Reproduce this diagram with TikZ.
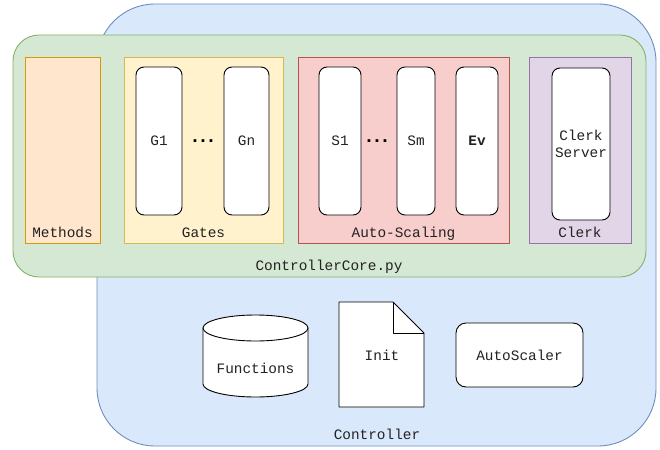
\documentclass[tikz,border=0pt]{standalone}
\usepackage{fontspec}
\setmainfont{Liberation Mono}
\definecolor{ctrlfill}{HTML}{DAE8FC}
\definecolor{ctrlline}{HTML}{6C8EBF}
\definecolor{corefill}{HTML}{D5E8D4}
\definecolor{coreline}{HTML}{82B366}
\definecolor{methfill}{HTML}{FFE6CC}
\definecolor{methline}{HTML}{D79B00}
\definecolor{gatefill}{HTML}{FFF2CC}
\definecolor{gateline}{HTML}{D6B656}
\definecolor{asfill}{HTML}{F8CECC}
\definecolor{asline}{HTML}{B85450}
\definecolor{clerkfill}{HTML}{E1D5E7}
\definecolor{clerkline}{HTML}{9673A6}
\definecolor{txt}{HTML}{222222}
\newcommand{\bigdots}{{\fontsize{19}{19}\selectfont\bfseries .\kern-3.4pt.\kern-3.4pt.}}
\begin{document}
\begin{tikzpicture}[x=1pt,y=-1pt,
  font=\fontsize{14.4}{17}\selectfont,
  lbl/.style={inner sep=0pt, text=txt, text height=8pt, text depth=0pt},
  cont/.style={line width=0.9pt, inner sep=0pt},
  item/.style={draw=black, fill=white, line width=0.9pt, rounded corners=8pt,
    inner sep=0pt, align=center, text=txt}]
\useasboundingbox (0,0) rectangle (660,449);
% Controller
\node[cont, draw=ctrlline, fill=ctrlfill, rounded corners=58pt,
  minimum width=559, minimum height=442] (controller) at (376.5,225) {};
\node[lbl] (controllerlbl) at (377,435) {Controller};
% ControllerCore.py
\node[cont, draw=coreline, fill=corefill, rounded corners=26pt,
  minimum width=633, minimum height=242] (core) at (329.5,156) {};
\node[lbl] (corelbl) at (329,266) {ControllerCore.py};
% Methods
\node[cont, draw=methline, fill=methfill, minimum width=75, minimum height=186] (methods) at (62.5,150) {};
\node[lbl] (methodslbl) at (62.5,233) {Methods};
% Gates
\node[cont, draw=gateline, fill=gatefill, minimum width=159, minimum height=186] (gates) at (203.5,150) {};
\node[lbl] (gateslbl) at (203.5,233) {Gates};
\node[item, minimum width=46, minimum height=148] (g1) at (159,141) {G1};
\node[item, minimum width=45, minimum height=148] (gn) at (246.5,141) {Gn};
\node[inner sep=0pt] (gdots) at (203,141) {\bigdots};
% Auto-Scaling
\node[cont, draw=asline, fill=asfill, minimum width=211, minimum height=186] (autoscaling) at (403.5,150) {};
\node[lbl] (aslbl) at (403.5,233) {Auto-Scaling};
\node[item, minimum width=42, minimum height=148] (s1) at (340,141) {S1};
\node[item, minimum width=38, minimum height=148] (sm) at (416,141) {Sm};
\node[item, minimum width=42, minimum height=148] (ev) at (477,141) {\textbf{Ev}};
\node[inner sep=0pt] (sdots) at (377,141) {\bigdots};
% Clerk
\node[cont, draw=clerkline, fill=clerkfill, minimum width=102, minimum height=186] (clerk) at (580,150) {};
\node[lbl] (clerklbl) at (580,233) {Clerk};
\node[item, minimum width=58, minimum height=152] (clerkserver) at (581,144) {Clerk\\[0pt]Server};
% Functions cylinder
\path[draw=black, fill=white, line width=0.9pt]
  (203,328) -- (203,384) arc[start angle=180, end angle=0, x radius=52.5, y radius=13]
  -- (308,328) -- cycle;
\draw[fill=white, line width=0.9pt] (255.5,328) ellipse[x radius=52.5, y radius=13];
\node[lbl] (functions) at (255.5,369) {Functions};
% Init document
\path[draw=black, fill=white, line width=0.9pt, line join=round]
  (339,302) -- (393,302) -- (424,333) -- (424,407) -- (339,407) -- cycle;
\draw[line width=0.9pt, line join=round] (393,302) -- (393,333) -- (424,333);
\node[lbl] (init) at (382,356) {Init};
% AutoScaler
\node[item, rounded corners=10pt, minimum width=127, minimum height=64] (autoscaler) at (519.5,355) {AutoScaler};
\end{tikzpicture}
\end{document}
